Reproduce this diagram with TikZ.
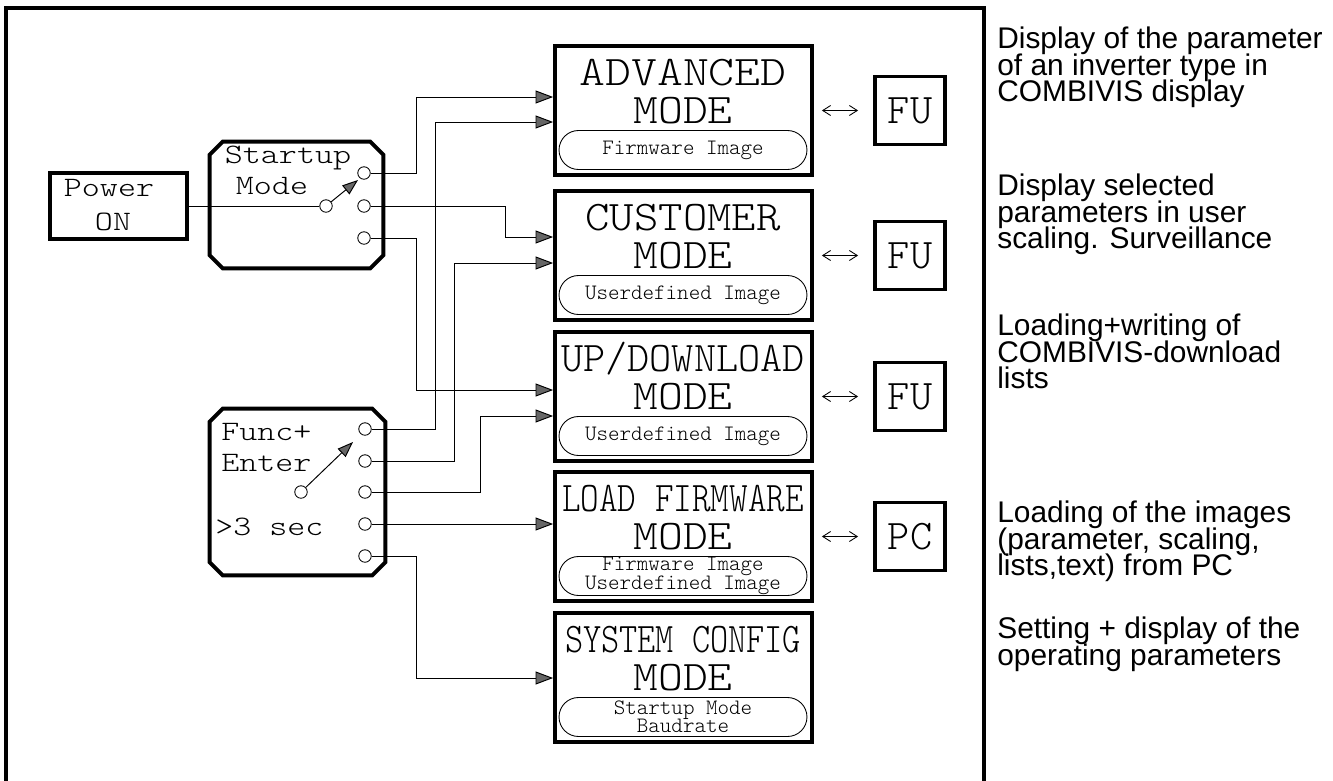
\documentclass[tikz,border=0pt]{standalone}
\usepackage{fontspec}
\setmainfont{Liberation Sans}
\newfontfamily\cadfont{lmmonolt10-regular.otf}
\newcommand\cadw[2]{{\addfontfeatures{FakeStretch=#1}#2}}
\usetikzlibrary{arrows.meta,calc}

\begin{document}
\begin{tikzpicture}[
    x=0.02cm, y=-0.02cm,
    heavy/.style={draw, line width=2.2pt},
    modebox/.style={heavy, minimum width=5.14cm, minimum height=2.58cm, inner sep=0pt},
    pill/.style={draw, line width=0.5pt, rounded corners=0.39cm, minimum width=4.96cm,
        minimum height=0.78cm, inner sep=0pt, align=center,
        font={\fontsize{12.5}{10.4}\cadfont\lineskiplimit=-20pt\relax}},
    bigtxt/.style={font={\fontsize{24}{24}\cadfont}, inner sep=0pt},
    smalltxt/.style={font={\fontsize{16}{16}\cadfont}, inner sep=0pt},
    swbox/.style={minimum width=3.46cm, inner sep=0pt},
    port/.style={draw, circle, fill=white, minimum size=0.25cm, inner sep=0pt, line width=0.5pt},
    conn/.style={line width=0.55pt, -{Triangle[length=10pt, width=7.4pt, fill=black!60]}},
    swarrow/.style={line width=0.55pt, -{Triangle[length=9pt, width=6.5pt, fill=black!60]}},
    biarrow/.style={line width=0.5pt, {Straight Barb[length=4.5pt, width=5.7pt]}-{Straight Barb[length=4.5pt, width=5.7pt]},
        shorten <=0.16cm, shorten >=0.3cm},
    desc/.style={anchor=north west, inner sep=0pt, align=left,
        font={\fontsize{17}{15}\selectfont\lineskiplimit=-20pt\relax}},
]
    \useasboundingbox (0,0) rectangle (1333,781);
    \draw[line width=2.3pt] (6,790) -- (6,8) -- (984,8) -- (984,790);

    % mode displays
    \foreach \nm/\ytop/\ttl/\sx/\imgtxt in {%
        adv/46/ADVANCED/1.17/Firmware Image,%
        cust/191/CUSTOMER/1.10/Userdefined Image,%
        updl/332/{UP/DOWNLOAD}/1.0/Userdefined Image,%
        load/472/LOAD FIRMWARE/0.84/{Firmware Image\\Userdefined Image},%
        sys/613/SYSTEM CONFIG/0.82/{Startup Mode\\Baudrate}%
    }{
        \node[modebox] (\nm) at (683.5, \ytop+64.5) {};
        \node[bigtxt] (\nm-ttl) at (683, \ytop+27) {\cadw{\sx}{\ttl}};
        \node[bigtxt] (\nm-mode) at (683, \ytop+65) {\cadw{1.12}{MODE}};
        \node[pill] (\nm-img) at (683, \ytop+104) {\imgtxt};
    }
    \foreach \nm/\lbl in {adv/FU, cust/FU, updl/FU, load/PC}{
        \node[heavy, bigtxt, minimum width=1.4cm, minimum height=1.36cm] (\nm-dev) at (\nm -| 910,0) {\lbl};
        \draw[biarrow] (\nm) -- (\nm-dev);
    }

    % power and startup switch
    \node[heavy, minimum width=2.74cm, minimum height=1.32cm] (power) at (118.5,206) {};
    \node[smalltxt] (power-a) at (109,188) {\cadw{1.22}{Power}};
    \node[smalltxt] (power-b) at (113,222) {\cadw{1.22}{ON}};

    \node[swbox, minimum height=2.52cm] (startup) at (296.5,205) {};
    \node[swbox, minimum width=3.5cm, minimum height=3.32cm] (func) at (297.5,492) {};
    \foreach \b in {startup, func}
        \draw[heavy] ($(\b.north west)+(13,0)$) -- ($(\b.north east)+(-13,0)$) -- ($(\b.north east)+(0,13)$)
            -- ($(\b.south east)+(0,-13)$) -- ($(\b.south east)+(-13,0)$) -- ($(\b.south west)+(13,0)$)
            -- ($(\b.south west)+(0,-13)$) -- ($(\b.north west)+(0,13)$) -- cycle;

    \node[smalltxt] (startup-a) at (288,158) {\cadw{1.22}{Startup}};
    \node[smalltxt] (startup-b) at (272,186) {\cadw{1.22}{Mode}};
    \node[port] (supiv) at (326,206) {};
    \foreach \y [count=\i] in {173,206,238}
        \node[port] (su\i) at (364,\y) {};
    \coordinate (sutip) at (358,180);
    \draw[swarrow] (supiv) -- (sutip);
    \draw[line width=0.55pt] (power) -- (supiv);

    % func+enter switch
    \node[smalltxt, anchor=west] (func-a) at (221,432) {\cadw{1.22}{Func+}};
    \node[smalltxt, anchor=west] (func-b) at (221,463) {\cadw{1.22}{Enter}};
    \node[smalltxt, anchor=west] (func-c) at (215,527) {\cadw{1.22}{>3 sec}};
    \node[port] (fepiv) at (301,492) {};
    \foreach \y [count=\i] in {429,461,492,524,556}
        \node[port] (fe\i) at (365,\y) {};
    \coordinate (fetip) at (353,442);
    \draw[swarrow] (fepiv) -- (fetip);

    % connectors
    \draw[conn] (su1) -| (416,97) -- (adv.west |- 0,97);
    \draw[conn] (su2) -| (505,237) -- (cust.west |- 0,237);
    \draw[conn] (su3) -| (416,390) -- (updl.west |- 0,390);
    \draw[conn] (fe1) -| (435,122) -- (adv.west |- 0,122);
    \draw[conn] (fe2) -| (454,263) -- (cust.west |- 0,263);
    \draw[conn] (fe3) -| (480,416) -- (updl.west |- 0,416);
    \draw[conn] (fe4) -- (load.west |- fe4);
    \draw[conn] (fe5) -| (416,678) -- (sys.west |- 0,678);

    % descriptions
    \node[desc] (d-adv) at (997,27) {Display of the parameter\\of an inverter type in\\COMBIVIS display};
    \node[desc] (d-cust) at (997,174) {Display selected\\parameters in user\\scaling. Surveillance};
    \node[desc] (d-updl) at (997,314) {Loading+writing of\\COMBIVIS-download\\lists};
    \node[desc] (d-load) at (997,501) {Loading of the images\\(parameter, scaling,\\lists,text) from PC};
    \node[desc] (d-sys) at (997,617) {Setting + display of the\\operating parameters};
\end{tikzpicture}
\end{document}
